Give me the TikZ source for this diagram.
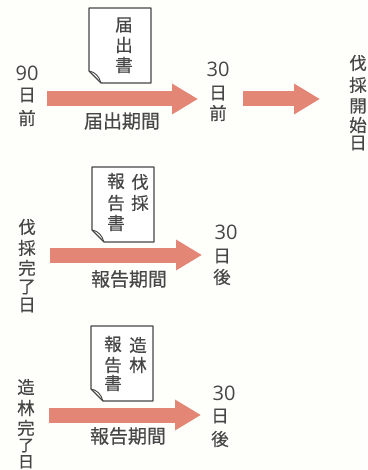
\documentclass[tikz,border=0pt]{standalone}
\usepackage{fontspec}
\setmainfont[FakeBold=0.4]{Noto Sans CJK JP}
\newfontfamily\cjkb[FakeBold=0.4]{Noto Sans CJK JP}
\newfontfamily\numfont{Open Sans}
\usetikzlibrary{arrows.meta}
\definecolor{inkc}{RGB}{70,70,70}
\definecolor{paperc}{RGB}{254,254,250}
\definecolor{salmon}{RGB}{228,134,118}
\tikzset{
  x=1pt,y=-1pt,
  lab/.style={text=inkc,inner sep=0pt,font=\cjkb\fontsize{17.5}{17.5}\selectfont},
  smalllab/.style={lab,font=\cjkb\fontsize{16}{16}\selectfont},
  num/.style={text=inkc,inner sep=0pt,font=\numfont\fontsize{20}{20}\selectfont},
  captext/.style={lab,font=\cjkb\fontsize{19}{19}\selectfont},
  blockarrow/.style={line width=15pt,draw=salmon,-{Triangle[length=26pt,width=29pt]}},
  paper/.pic={
    \draw[draw=inkc,line width=1.2pt,fill=white,line join=round]
      (0,0) -- (62,0) -- (62,75) -- (12,75) -- (0,63) -- cycle;
    \draw[draw=inkc,line width=0.9pt] (0,63) .. controls (6,64) and (10,68) .. (12,75);
  }
}
\begin{document}
\begin{tikzpicture}
\useasboundingbox[fill=paperc] (0,0) rectangle (367,470);
% row 1
\coordinate (a1s) at (47,99); \coordinate (a1e) at (198,99);
\coordinate (a2s) at (243,99); \coordinate (a2e) at (320,99);
\draw[blockarrow] (a1s) -- (a1e);
\draw[blockarrow] (a2s) -- (a2e);
\pic at (89,8) {paper};
\node[lab] (d1a) at (124,25) {届};
\node[lab] (d1b) at (124,45) {出};
\node[lab] (d1c) at (124,65) {書};
\node[num] (n90) at (27,73) {90};
\node[lab] (n90b) at (27,95) {日};
\node[lab] (n90c) at (27,118) {前};
\node[captext] (c1) at (122,121) {届出期間};
\node[num] (n30a) at (218,69) {30};
\node[lab] (n30b) at (218,93) {日};
\node[lab] (n30c) at (218,113) {前};
\node[lab] (s1) at (358,63) {伐};
\node[lab] (s2) at (358,85) {採};
\node[lab] (s3) at (358,106) {開};
\node[lab] (s4) at (358,125) {始};
\node[lab] (s5) at (358,143) {日};
% row 2
\coordinate (a3s) at (50,255); \coordinate (a3e) at (202,255);
\draw[blockarrow] (a3s) -- (a3e);
\pic at (92,167) {paper};
\node[lab] (r1) at (140,182) {伐};
\node[lab] (r2) at (140,203) {採};
\node[lab] (r3) at (116,181) {報};
\node[lab] (r4) at (116,203) {告};
\node[lab] (r5) at (116,223) {書};
\node[captext] (c2) at (129,279) {報告期間};
\node[lab] (l1) at (27,227) {伐};
\node[lab] (l2) at (27,248) {採};
\node[lab] (l3) at (27,268) {完};
\node[lab] (l4) at (27,287) {了};
\node[lab] (l5) at (27,305) {日};
\node[num] (n30d) at (226,232) {30};
\node[lab] (n30e) at (222,256) {日};
\node[lab] (n30f) at (222,277) {後};
% row 3
\coordinate (a4s) at (49,415); \coordinate (a4e) at (201,415);
\draw[blockarrow] (a4s) -- (a4e);
\pic at (91,326) {paper};
\node[lab] (t1) at (138,345) {造};
\node[lab] (t2) at (138,365) {林};
\node[lab] (t3) at (113,344) {報};
\node[lab] (t4) at (113,365) {告};
\node[lab] (t5) at (113,383) {書};
\node[captext] (c3) at (128,436) {報告期間};
\node[lab] (k1) at (26,387) {造};
\node[lab] (k2) at (26,408) {林};
\node[lab] (k3) at (26,428) {完};
\node[smalllab] (k4) at (26,445.5) {了};
\node[smalllab] (k5) at (26,461.8) {日};
\node[num] (n30g) at (224,393) {30};
\node[lab] (n30h) at (220,416) {日};
\node[lab] (n30i) at (220,439) {後};
\end{tikzpicture}
\end{document}
